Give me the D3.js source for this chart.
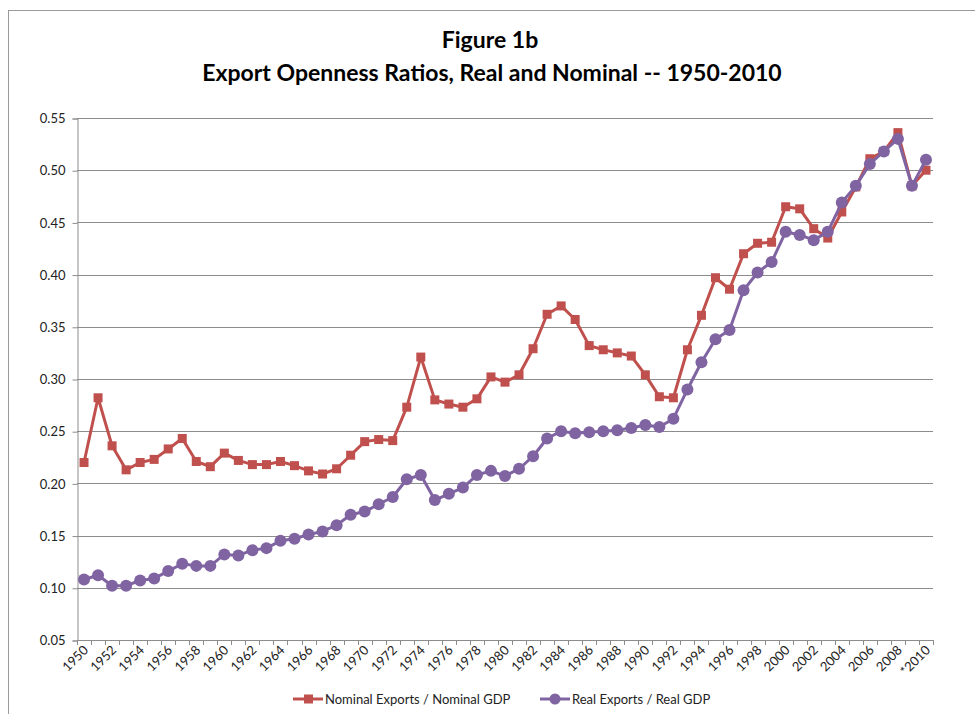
<!DOCTYPE html>
<html>
<head>
<meta charset="utf-8">
<script src="https://cdn.jsdelivr.net/npm/d3@7"></script>
<style>
  body { margin: 0; background: #fff; }
  svg { display: block; font-family: "Lato", "Open Sans", sans-serif; }
</style>
</head>
<body>
<svg id="myGraph" width="975" height="714"></svg>
<script>
// data
var years = d3.range(1950, 2011);
var nominal = [0.220, 0.282, 0.236, 0.213, 0.220, 0.223, 0.233, 0.243, 0.221, 0.216,
  0.229, 0.222, 0.218, 0.218, 0.221, 0.217, 0.212, 0.209, 0.214, 0.227,
  0.240, 0.242, 0.241, 0.273, 0.321, 0.280, 0.276, 0.273, 0.281, 0.302,
  0.297, 0.304, 0.329, 0.362, 0.370, 0.357, 0.332, 0.328, 0.325, 0.322,
  0.304, 0.283, 0.282, 0.328, 0.361, 0.397, 0.386, 0.420, 0.430, 0.431,
  0.465, 0.463, 0.444, 0.435, 0.460, 0.484, 0.511, 0.518, 0.536, 0.485,
  0.500];
var real = [0.108, 0.112, 0.102, 0.102, 0.107, 0.109, 0.116, 0.123, 0.121, 0.121,
  0.132, 0.131, 0.136, 0.138, 0.145, 0.147, 0.151, 0.154, 0.160, 0.170,
  0.173, 0.180, 0.187, 0.204, 0.208, 0.184, 0.190, 0.196, 0.208, 0.212,
  0.207, 0.214, 0.226, 0.243, 0.250, 0.248, 0.249, 0.250, 0.251, 0.253,
  0.256, 0.254, 0.262, 0.290, 0.316, 0.338, 0.347, 0.385, 0.402, 0.412,
  0.441, 0.438, 0.433, 0.441, 0.469, 0.485, 0.506, 0.518, 0.530, 0.485,
  0.510];
var yTicks = [0.05, 0.10, 0.15, 0.20, 0.25, 0.30, 0.35, 0.40, 0.45, 0.50, 0.55];
var xLabels = years.filter(function(y){ return (y - 1950) % 2 === 0; });
var seriesNames = ["Nominal Exports / Nominal GDP", "Real Exports / Real GDP"];

var red = "#C0504D", purple = "#8064A2", grid = "#8c8c8c";

var svg = d3.select("#myGraph");

// outer chart border
svg.append("rect")
  .attr("x", 8.5).attr("y", 10.5)
  .attr("width", 1000).attr("height", 1000)
  .attr("fill", "none").attr("stroke", "#9a9a9a");

var plotLeft = 77, plotRight = 933, plotTop = 118, plotBottom = 640;

var x = d3.scaleBand().domain(years).range([plotLeft, plotRight]).padding(0);
var y = d3.scaleLinear().domain([0.05, 0.55]).range([plotBottom, plotTop]);
function cx(d, i){ return x(years[i]) + x.bandwidth() / 2; }

// title
svg.append("text")
  .attr("x", 490).attr("y", 48)
  .attr("text-anchor", "middle")
  .attr("font-size", 23).attr("font-weight", "bold")
  .text("Figure 1b");
svg.append("text")
  .attr("x", 492).attr("y", 81)
  .attr("text-anchor", "middle")
  .attr("font-size", 23).attr("font-weight", "bold")
  .text("Export Openness Ratios, Real and Nominal -- 1950-2010");

// gridlines
svg.append("g").selectAll("line")
  .data(yTicks.slice(1))
  .enter().append("line")
  .attr("x1", plotLeft).attr("x2", plotRight)
  .attr("y1", function(d){ return Math.round(y(d)) + 0.5; })
  .attr("y2", function(d){ return Math.round(y(d)) + 0.5; })
  .attr("stroke", grid).attr("stroke-width", 1);

// y axis
var yAxis = svg.append("g")
  .attr("transform", "translate(" + (plotLeft + 0.5) + ",0.5)")
  .call(d3.axisLeft(y).tickValues(yTicks).tickFormat(d3.format(".2f")).tickSize(5).tickPadding(7));
yAxis.select(".domain").attr("stroke", grid);
yAxis.selectAll(".tick line").attr("stroke", grid);
yAxis.selectAll("text").attr("font-size", 13).attr("fill", "#222").attr("font-family", "Lato");

// x axis line with ticks between categories
svg.append("line")
  .attr("x1", plotLeft).attr("x2", plotRight)
  .attr("y1", plotBottom + 0.5).attr("y2", plotBottom + 0.5)
  .attr("stroke", grid);
svg.append("g").selectAll("line")
  .data(years.concat([2011]))
  .enter().append("line")
  .attr("x1", function(d){ return Math.round(d === 2011 ? plotRight : x(d)) + 0.5; })
  .attr("x2", function(d){ return Math.round(d === 2011 ? plotRight : x(d)) + 0.5; })
  .attr("y1", plotBottom).attr("y2", plotBottom + 5)
  .attr("stroke", grid);

svg.append("g").selectAll("text")
  .data(xLabels)
  .enter().append("text")
  .attr("transform", function(d){
    return "translate(" + (x(d) + x.bandwidth() / 2 + 5) + "," + (plotBottom + 11) + ") rotate(-45)";
  })
  .attr("text-anchor", "end")
  .attr("font-size", 13).attr("fill", "#222")
  .text(function(d){ return d === 2010 ? "*2010" : d; });

// lines
var line = d3.line()
  .x(cx)
  .y(function(d){ return y(d); });

svg.append("path").datum(nominal)
  .attr("d", line).attr("fill", "none")
  .attr("stroke", red).attr("stroke-width", 3).attr("stroke-linejoin", "round");
svg.append("g").selectAll("rect")
  .data(nominal)
  .enter().append("rect")
  .attr("x", function(d, i){ return cx(d, i) - 4.5; })
  .attr("y", function(d){ return y(d) - 4.5; })
  .attr("width", 9).attr("height", 9)
  .attr("fill", red);

svg.append("path").datum(real)
  .attr("d", line).attr("fill", "none")
  .attr("stroke", purple).attr("stroke-width", 3).attr("stroke-linejoin", "round");
svg.append("g").selectAll("circle")
  .data(real)
  .enter().append("circle")
  .attr("cx", cx)
  .attr("cy", function(d){ return y(d); })
  .attr("r", 6)
  .attr("fill", purple);

// legend
var legY = 699;
var leg = [
  { name: seriesNames[0], color: red, x0: 293, shape: "square" },
  { name: seriesNames[1], color: purple, x0: 540, shape: "circle" }
];
leg.forEach(function(l){
  var g = svg.append("g");
  g.append("line")
    .attr("x1", l.x0).attr("x2", l.x0 + 30)
    .attr("y1", legY).attr("y2", legY)
    .attr("stroke", l.color).attr("stroke-width", 3);
  if (l.shape === "square") {
    g.append("rect").attr("x", l.x0 + 11).attr("y", legY - 4.5)
      .attr("width", 9).attr("height", 9).attr("fill", l.color);
  } else {
    g.append("circle").attr("cx", l.x0 + 15).attr("cy", legY).attr("r", 5.5).attr("fill", l.color);
  }
  g.append("text")
    .attr("x", l.x0 + 32).attr("y", legY + 4.5)
    .attr("font-size", 13).attr("fill", "#222")
    .text(l.name);
});
</script>
</body>
</html>
